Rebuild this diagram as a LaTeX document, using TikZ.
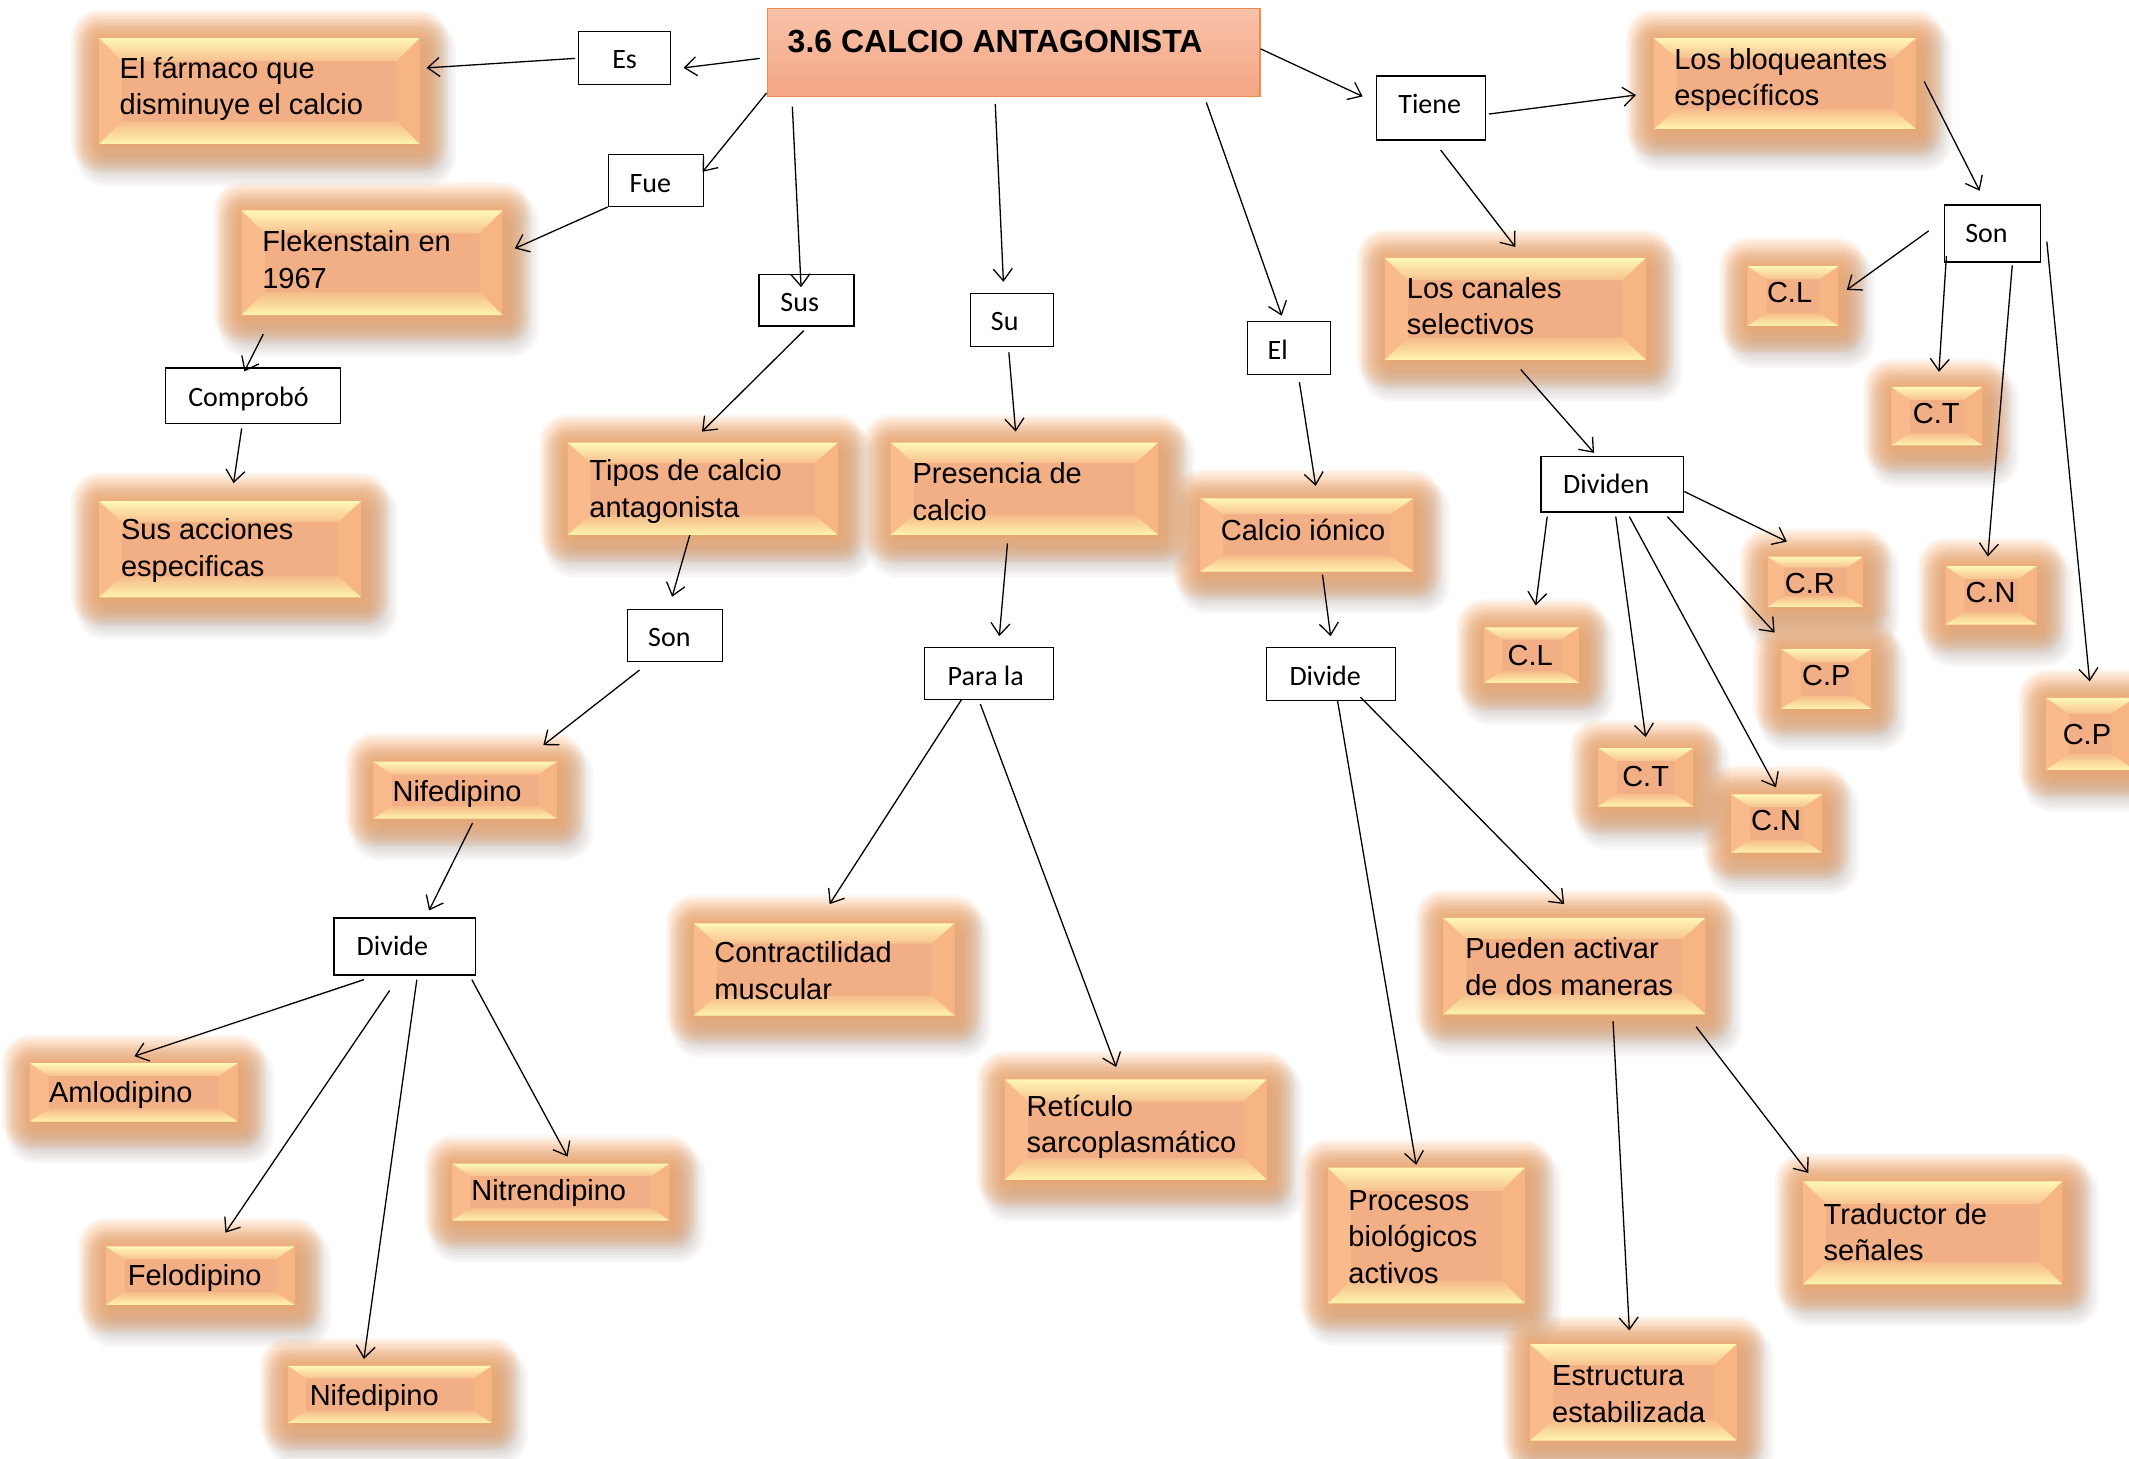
\documentclass[tikz,border=0pt]{standalone}
\usepackage{fontspec}
\setmainfont{Liberation Sans}
\newfontfamily\calib{Carlito}
\usetikzlibrary{arrows.meta,calc}
\definecolor{cenc}{HTML}{F2AE84}
\definecolor{bevtopo}{HTML}{FFF7B6}
\definecolor{bevtopi}{HTML}{F7C28F}
\definecolor{bevboto}{HTML}{FFF3AE}
\definecolor{bevboti}{HTML}{F5BB8A}
\definecolor{bevl}{HTML}{F9BB8B}
\definecolor{bevr}{HTML}{F7B584}
\definecolor{glc}{HTML}{F5A565}
\definecolor{shc}{HTML}{6E5545}
\definecolor{ttop}{HTML}{F8C3AA}
\definecolor{tbot}{HTML}{F4A583}
\definecolor{tbrd}{HTML}{F08C50}
\tikzset{
 otx/.style={font=\fontsize{29}{36.7}\selectfont, align=left, inner sep=0pt},
 sbox/.style={draw=black, line width=1.3pt, fill=white, inner sep=0pt},
 stx/.style={font=\calib\fontsize{28}{33}\selectfont, inner sep=0pt, anchor=base},
 arr/.style={line width=1.3pt, -{Straight Barb[length=12pt,width=19pt]}},
}
\newcommand\obx[5]{%
 \pgfmathsetmacro\bw{(#4-#2)*1.3578}%
 \pgfmathsetmacro\bh{(#5-#3)*1.3578}%
 \pgfmathsetmacro\dy{min(17,0.22*(#5-#3))}%
 \pgfmathsetmacro\dx{min(17,0.32*(#5-#3))}%
 \foreach \k in {1,...,11}{\fill[shc, opacity=0.04, rounded corners=\k*2.6pt] ({#2+5-2*\k},{#3+9-2*\k}) rectangle ({#4+5+2*\k},{#5+9+2*\k});}%
 \foreach \k in {1,...,13}{\fill[glc, opacity=0.095, rounded corners=\k*2.2pt] ({#2-1.6*\k},{#3-1.6*\k}) rectangle ({#4+1.6*\k},{#5+1.6*\k});}%
 \fill[cenc] (#2,#3) rectangle (#4,#5);
 \fill[bevl] (#2,#3) -- ({#2+\dx},{#3+\dy}) -- ({#2+\dx},{#5-\dy}) -- (#2,#5) -- cycle;
 \fill[bevr] (#4,#3) -- ({#4-\dx},{#3+\dy}) -- ({#4-\dx},{#5-\dy}) -- (#4,#5) -- cycle;
 \shade[top color=bevtopo, bottom color=bevtopi] (#2,#3) -- (#4,#3) -- ({#4-\dx},{#3+\dy}) -- ({#2+\dx},{#3+\dy}) -- cycle;
 \shade[top color=bevboti, bottom color=bevboto] (#2,#5) -- (#4,#5) -- ({#4-\dx},{#5-\dy}) -- ({#2+\dx},{#5-\dy}) -- cycle;
 \node[inner sep=0pt, minimum width=\bw pt, minimum height=\bh pt] (#1) at ({(#2+#4)/2},{(#3+#5)/2}) {};
}
% name, x1, y1, x2, y2, text, text centre x, text centre y
\newcommand\wbx[8]{%
 \pgfmathsetmacro\bw{(#4-#2)*1.3578}%
 \pgfmathsetmacro\bh{(#5-#3)*1.3578}%
 \node[sbox, minimum width=\bw pt, minimum height=\bh pt] (#1) at ({(#2+#4)/2},{(#3+#5)/2}) {};
 \node[stx] (#1-t) at (#7,{#8+6.5}) {#6};
}
\begin{document}
\begin{tikzpicture}[x=1.3578pt,y=-1.3578pt]
\useasboundingbox (0,0) rectangle (1568,1074);
\fill[white] (0,0) rectangle (1568,1074);
% orange boxes
\obx{far}{73}{28}{309}{106}
\obx{flek}{178}{155}{370}{232}
\obx{acc}{73}{369}{266}{440}
\obx{tipos}{418}{326}{617}{394}
\obx{pres}{656}{326}{853}{394}
\obx{ion}{884}{367}{1041}{421}
\obx{bloq}{1218}{28}{1411}{95}
\obx{can}{1020}{190}{1212}{265}
\obx{cla}{1287}{196}{1354}{240}
\obx{cta}{1393}{285}{1460}{328}
\obx{cr}{1302}{410}{1372}{447}
\obx{cna}{1433}{417}{1500}{460}
\obx{clb}{1093}{462}{1163}{503}
\obx{cpa}{1312}{478}{1378}{522}
\obx{cpb}{1507}{514}{1572}{567}
\obx{ctb}{1177}{551}{1247}{594}
\obx{cnb}{1275}{585}{1342}{628}
\obx{nifa}{275}{561}{410}{603}
\obx{contr}{511}{680}{703}{748}
\obx{ret}{740}{795}{933}{869}
\obx{pued}{1063}{676}{1256}{747}
\obx{aml}{22}{783}{175}{826}
\obx{nitr}{333}{857}{493}{899}
\obx{felo}{78}{918}{217}{961}
\obx{nifb}{212}{1006}{362}{1048}
\obx{proc}{978}{860}{1123}{960}
\obx{trad}{1328}{870}{1519}{946}
\obx{estr}{1127}{990}{1279}{1061}
% texts of orange boxes
\node[otx, anchor=west] (far-t) at (88,65.5) {El fármaco que\\disminuye el calcio};
\node[otx, anchor=west] (flek-t) at (193,191) {Flekenstain en\\1967};
\node[otx, anchor=west] (acc-t) at (89,405.5) {Sus acciones\\especificas};
\node[otx, anchor=west] (tipos-t) at (434,362) {Tipos de calcio\\antagonista};
\node[otx, anchor=west] (pres-t) at (672,362) {Presencia de\\calcio};
\node[otx, anchor=west] (bloq-t) at (1233,59) {Los bloqueantes\\específicos};
\node[otx, anchor=west] (can-t) at (1036,225.5) {Los canales\\selectivos};
\node[otx, anchor=west] (contr-t) at (526,715) {Contractilidad\\muscular};
\node[otx, anchor=west] (ret-t) at (756,830) {Retículo\\sarcoplasmático};
\node[otx, anchor=west] (pued-t) at (1079,712) {Pueden activar\\de dos maneras};
\node[otx, anchor=west] (proc-t) at (993,911) {Procesos\\biológicos\\activos};
\node[otx, anchor=west] (trad-t) at (1343,907.5) {Traductor de\\señales};
\node[otx, anchor=west] (estr-t) at (1143,1027) {Estructura\\estabilizada};
\node[otx, anchor=base west] (ion-t) at (899,398) {Calcio iónico};
\node[otx, anchor=base west] (nifa-t) at (289,590) {Nifedipino};
\node[otx, anchor=base west] (aml-t) at (36,812) {Amlodipino};
\node[otx, anchor=base west] (nitr-t) at (347,884) {Nitrendipino};
\node[otx, anchor=base west] (felo-t) at (94,947) {Felodipino};
\node[otx, anchor=base west] (nifb-t) at (228,1035) {Nifedipino};
\node[otx, anchor=base] (cla-t) at (1318,223) {C.L};
\node[otx, anchor=base] (cta-t) at (1426,312) {C.T};
\node[otx, anchor=base] (cr-t) at (1333,437) {C.R};
\node[otx, anchor=base] (cna-t) at (1466,444) {C.N};
\node[otx, anchor=base] (clb-t) at (1127,490) {C.L};
\node[otx, anchor=base] (cpa-t) at (1345,505) {C.P};
\node[otx, anchor=base] (cpb-t) at (1537,548) {C.P};
\node[otx, anchor=base] (ctb-t) at (1212,579) {C.T};
\node[otx, anchor=base] (cnb-t) at (1308,612) {C.N};
% white boxes
\wbx{es}{426}{23}{494}{62}{Es}{460}{44}
\wbx{fue}{448}{114}{518}{152}{Fue}{479}{135}
\wbx{comp}{122}{271}{251}{312}{Comprobó}{183}{293}
\wbx{sus}{559}{202}{629}{240}{Sus}{589}{223}
\wbx{su}{715}{216}{776}{255}{Su}{740}{237}
\wbx{el}{919}{237}{980}{276}{El}{941}{258}
\wbx{tiene}{1014}{56}{1094}{103}{Tiene}{1053}{77}
\wbx{sonb}{1432}{151}{1503}{193}{Son}{1463}{172}
\wbx{dividen}{1135}{336}{1240}{377}{Dividen}{1183}{357}
\wbx{sona}{462}{449}{532}{487}{Son}{493}{470}
\wbx{para}{681}{477}{776}{515}{Para la}{726}{498}
\wbx{divb}{933}{477}{1028}{516}{Divide}{976}{498}
\wbx{diva}{246}{676}{350}{718}{Divide}{289}{697}
% title
\node[draw=tbrd, line width=1.2pt, top color=ttop, bottom color=tbot, inner sep=0pt, minimum width=492.9pt, minimum height=88.3pt] (title) at (746.5,38.5) {};
\node[font=\bfseries\fontsize{32}{38}\selectfont, anchor=base west, inner sep=0pt] (title-t) at (580,38.5) {3.6 CALCIO ANTAGONISTA};
% connectors
\draw[arr] ([shift={(-5,4.5)}]title.west) -- ([shift={(9,7.5)}]es.east);
\draw[arr] ([shift={(-2,0.5)}]es.west) -- ([shift={(5,-17)}]far.east);
\draw[arr] ([shift={(0,-3)}]title.south west) -- ([shift={(-1,13)}]fue.north east);
\draw[arr] (fue.south west) -- ([shift={(9,-10.5)}]flek.east);
\draw[arr] ([shift={(16,14)}]flek.south west) -- ([shift={(-6.5,3)}]comp.north);
\draw[arr] ([shift={(-8.5,3)}]comp.south) -- ([shift={(2.5,-13)}]acc.north);
\draw[arr] ([shift={(19,7)}]title.south west) -- ([shift={(-4,10)}]sus.north);
\draw[arr] ([shift={(-2,3)}]sus.south) -- ([shift={(-0.5,-8)}]tipos.north);
\draw[arr] ([shift={(-9.5,0)}]tipos.south) -- ([shift={(-2,-9)}]sona.north);
\draw[arr] ([shift={(-26,6)}]sona.south) -- ([shift={(-10,-12)}]nifa.north east);
\draw[arr] ([shift={(5.5,3)}]nifa.south) -- ([shift={(18,-5)}]diva.north);
\draw[arr] ([shift={(-30,3)}]diva.south) -- ([shift={(0.5,-5)}]aml.north);
\draw[arr] ([shift={(-11,11)}]diva.south) -- ([shift={(18.5,-10)}]felo.north);
\draw[arr] ([shift={(9,3)}]diva.south) -- ([shift={(-19,-5)}]nifb.north);
\draw[arr] ([shift={(-3,3)}]diva.south east) -- ([shift={(5,-5)}]nitr.north);
\draw[arr] ([shift={(-13.5,5)}]title.south) -- ([shift={(-6.5,-8)}]su.north);
\draw[arr] ([shift={(-2.5,4)}]su.south) -- ([shift={(-6.5,-8)}]pres.north);
\draw[arr] ([shift={(-12.5,6)}]pres.south) -- ([shift={(7.5,-8)}]para.north);
\draw[arr] ([shift={(-20.5,0)}]para.south) -- ([shift={(4,-14)}]contr.north);
\draw[arr] ([shift={(-6.5,3)}]para.south) -- ([shift={(-14.5,-9)}]ret.north);
\draw[arr] ([shift={(-40,4)}]title.south east) -- ([shift={(-5.5,-4)}]el.north);
\draw[arr] ([shift={(7.5,5)}]el.south) -- ([shift={(6.5,-9)}]ion.north);
\draw[arr] ([shift={(11.5,2)}]ion.south) -- ([shift={(-0.5,-8)}]divb.north);
\draw[arr] ([shift={(4.5,-1)}]divb.south) -- ([shift={(-7.5,-2)}]proc.north);
\draw[arr] ([shift={(21.5,-3)}]divb.south) -- ([shift={(-7.5,-10)}]pued.north);
\draw[arr] ([shift={(28.5,5)}]pued.south) -- ([shift={(-3,-10)}]estr.north);
\draw[arr] ([shift={(-7,9)}]pued.south east) -- ([shift={(4,-6)}]trad.north west);
\draw[arr] ([shift={(0,-2.5)}]title.east) -- ([shift={(-10,-8.5)}]tiene.west);
\draw[arr] ([shift={(2,4.5)}]tiene.east) -- ([shift={(-13,8.5)}]bloq.west);
\draw[arr] ([shift={(7,7)}]tiene.south) -- ([shift={(0,-8)}]can.north);
\draw[arr] ([shift={(4,7)}]can.south) -- ([shift={(-13.5,-2)}]dividen.north);
\draw[arr] ([shift={(6,-1.5)}]bloq.east) -- ([shift={(-9.5,-10)}]sonb.north);
\draw[arr] ([shift={(-11,-2)}]sonb.west) -- ([shift={(6,-4.5)}]cla.east);
\draw[arr] ([shift={(2,-5)}]sonb.south west) -- ([shift={(1.5,-11)}]cta.north);
\draw[arr] ([shift={(14.5,2)}]sonb.south) -- ([shift={(-2.5,-7)}]cna.north);
\draw[arr] ([shift={(4,6)}]sonb.east) -- ([shift={(-0.5,-12)}]cpb.north);
\draw[arr] ([shift={(0,5.5)}]dividen.east) -- ([shift={(-21,-11)}]cr.north);
\draw[arr] ([shift={(5,3)}]dividen.south west) -- ([shift={(3,-16)}]clb.north);
\draw[arr] ([shift={(2.5,3)}]dividen.south) -- ([shift={(0,-8)}]ctb.north);
\draw[arr] ([shift={(12.5,3)}]dividen.south) -- ([shift={(-0.5,-5)}]cnb.north);
\draw[arr] ([shift={(40.5,3)}]dividen.south) -- ([shift={(-38,-12)}]cpa.north);
\end{tikzpicture}
\end{document}
